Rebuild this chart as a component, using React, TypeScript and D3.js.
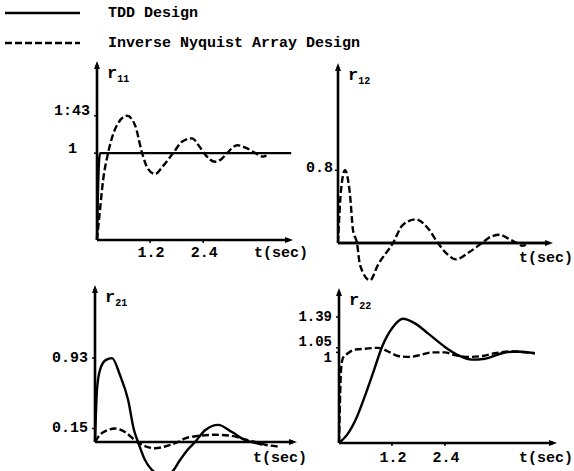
import React from "react";
import * as d3 from "d3";

// ---------- data ----------
const legendLabels = ["TDD Design", "Inverse Nyquist Array Design"];
const panelNames = ["11", "12", "21", "22"];

// r11
const r11TddT = [0, 0.02, 0.045, 0.07, 0.1, 4.39];
const r11TddV = [0, 0.5, 0.9, 1.0, 1.0, 1.0];
const r11InaT = [0, 0.068, 0.136, 0.25, 0.45, 0.68, 0.86, 1.02, 1.15, 1.31, 1.49, 1.72, 1.92, 2.15, 2.31, 2.45, 2.67, 2.81, 2.94, 3.17, 3.37, 3.58, 3.76, 3.83];
const r11InaV = [0, 0.35, 0.68, 1.0, 1.32, 1.43, 1.32, 1.0, 0.82, 0.76, 0.85, 1.0, 1.13, 1.17, 1.08, 0.98, 0.9, 0.93, 1.0, 1.09, 1.06, 1.0, 0.96, 0.97];

// r12
const r12TddT = [0, 4.7];
const r12TddV = [0, 0];
const r12InaT = [0, 0.068, 0.158, 0.272, 0.34, 0.43, 0.498, 0.724, 0.906, 1.245, 1.47, 1.766, 2.04, 2.264, 2.468, 2.675, 2.943, 3.26, 3.464, 3.668, 3.85, 4.05, 4.166, 4.256];
const r12InaV = [0, 0.58, 0.8, 0.53, 0.14, 0, -0.24, -0.41, -0.24, 0, 0.2, 0.26, 0.16, 0, -0.12, -0.18, -0.11, 0, 0.07, 0.09, 0.05, 0, -0.03, -0.02];

// r21
const r21TddT = [0, 0.045, 0.113, 0.249, 0.385, 0.566, 0.747, 0.883, 0.974, 1.132, 1.336, 1.54, 1.743, 1.924, 2.106, 2.264, 2.49, 2.785, 3.1, 3.396, 3.622, 3.78];
const r21TddV = [0, 0.58, 0.8, 0.91, 0.93, 0.74, 0.47, 0.13, 0, -0.2, -0.33, -0.37, -0.33, -0.2, -0.08, 0, 0.13, 0.19, 0.11, 0.02, -0.01, -0.03];
const r21InaT = [0, 0.113, 0.272, 0.453, 0.679, 0.951, 1.155, 1.358, 1.585, 1.879, 2.038, 2.377, 2.717, 3.056, 3.396, 3.622, 3.849, 4.143];
const r21InaV = [0, 0.08, 0.13, 0.15, 0.11, 0, -0.05, -0.07, -0.05, 0, 0.04, 0.07, 0.08, 0.07, 0.03, 0, -0.03, -0.05];

// r22
const r22TddT = [0, 0.181, 0.408, 0.589, 0.77, 0.974, 1.223, 1.449, 1.721, 2.015, 2.4, 2.694, 3.011, 3.306, 3.691, 4.031, 4.437];
const r22TddV = [0, 0.09, 0.29, 0.52, 0.77, 1.06, 1.28, 1.37, 1.32, 1.21, 1.06, 0.97, 0.92, 0.93, 0.99, 1.01, 0.99];
const r22InaT = [0, 0.023, 0.045, 0.091, 0.204, 0.362, 0.589, 0.883, 1.155, 1.336, 1.608, 1.834, 2.106, 2.4, 2.626, 2.966, 3.238, 3.532, 3.872, 4.437];
const r22InaV = [0, 0.47, 0.8, 0.94, 0.99, 1.03, 1.04, 1.05, 1.0, 0.96, 0.95, 0.97, 1.0, 1.0, 0.97, 0.95, 0.96, 0.99, 1.01, 0.99];

// tick labels
const r11YTicks = [1.43, 1];
const r11YLabels = ["1:43", "1"];
const r12YTicks = [0.8];
const r12YLabels = ["0.8"];
const r21YTicks = [0.93, 0.15];
const r21YLabels = ["0.93", "0.15"];
const r22YTicks = [1.39, 1.05, 1];
const r22YLabels = ["1.39", "1.05", "1"];
const xTicks = [1.2, 2.4];
const xTickLabels = ["1.2", "2.4"];
const xAxisLabel = "t(sec)";

// ---------- layout ----------
const W = 574;
const H = 471;
const FONT = "'Liberation Mono', 'DejaVu Sans Mono', monospace";
const FS = 15;

type Panel = {
  name: string;
  xr: [number, number];
  td: [number, number];
  yr: [number, number];
  vd: [number, number];
  tdd: [number[], number[]];
  ina: [number[], number[]];
  yTicks: number[];
  yLabels: string[];
  yLabelDy: number[];
  yLabelDx: number[];
  xTicks: number[];
  xLabelY: number;
  tsecX: number;
};

const panels: Panel[] = [
  { name: panelNames[0], xr: [97, 293], td: [0, 4.43], yr: [240, 61], vd: [0, 2.06], tdd: [r11TddT, r11TddV], ina: [r11InaT, r11InaV], yTicks: r11YTicks, yLabels: r11YLabels, yLabelDy: [-4, -4], yLabelDx: [0, -13], xTicks: xTicks, xLabelY: 253, tsecX: 254 },
  { name: panelNames[1], xr: [338, 553], td: [0, 4.87], yr: [243, 63], vd: [0, 1.98], tdd: [r12TddT, r12TddV], ina: [r12InaT, r12InaV], yTicks: r12YTicks, yLabels: r12YLabels, yLabelDy: [-2], yLabelDx: [2], xTicks: [], xLabelY: 258, tsecX: 519 },
  { name: panelNames[2], xr: [95, 297], td: [0, 4.57], yr: [442, 285], vd: [0, 1.74], tdd: [r21TddT, r21TddV], ina: [r21InaT, r21InaV], yTicks: r21YTicks, yLabels: r21YLabels, yLabelDy: [0, 0], yLabelDx: [0, 0], xTicks: [], xLabelY: 458, tsecX: 253 },
  { name: panelNames[3], xr: [339, 557], td: [0, 4.94], yr: [443, 288], vd: [0, 1.71], tdd: [r22TddT, r22TddV], ina: [r22InaT, r22InaV], yTicks: r22YTicks, yLabels: r22YLabels, yLabelDy: [0, -6, 6], yLabelDx: [0, 0, 0], xTicks: xTicks, xLabelY: 458, tsecX: 519 },
];

function PanelView({ p }: { p: Panel }) {
  const x = d3.scaleLinear().domain(p.td).range(p.xr);
  const y = d3.scaleLinear().domain(p.vd).range(p.yr);
  const line = d3
    .line<[number, number]>()
    .x((d) => x(d[0]))
    .y((d) => y(d[1]))
    .curve(d3.curveMonotoneX);
  const tdd = p.tdd[0].map((t, i) => [t, p.tdd[1][i]] as [number, number]);
  const ina = p.ina[0].map((t, i) => [t, p.ina[1][i]] as [number, number]);
  const x0 = x(0);
  const y0 = y(0);
  const xEnd = p.xr[1];
  const yTop = p.yr[1];
  return (
    <g>
      {/* axes */}
      <line x1={x0} y1={y0} x2={x0} y2={yTop + 4} stroke="#000" strokeWidth={2.6} />
      <path d={`M${x0 - 3},${yTop + 8} L${x0},${yTop} L${x0 + 3},${yTop + 8} Z`} fill="#000" />
      <line x1={x0} y1={y0} x2={xEnd - 4} y2={y0} stroke="#000" strokeWidth={2.6} />
      <path d={`M${xEnd - 8},${y0 - 3} L${xEnd},${y0} L${xEnd - 8},${y0 + 3} Z`} fill="#000" />
      {p.yTicks.map((v, i) => (
        <g key={"yt" + i}>
          <line x1={x0 - 3} x2={x0} y1={y(v)} y2={y(v)} stroke="#000" strokeWidth={1.5} />
          <text x={x0 - 7 + p.yLabelDx[i]} y={y(v) + p.yLabelDy[i]} textAnchor="end" dominantBaseline="central" fontFamily={FONT} fontWeight="bold" fontSize={p.yTicks.length > 2 ? 14 : FS} fill="#000">
            {p.yLabels[i]}
          </text>
        </g>
      ))}
      {p.xTicks.map((t, i) => (
        <g key={"xt" + i}>
          <line x1={x(t)} x2={x(t)} y1={y0} y2={y0 + 3} stroke="#000" strokeWidth={1.5} />
          <text x={x(t) + 1} y={p.xLabelY} textAnchor="middle" dominantBaseline="central" fontFamily={FONT} fontWeight="bold" fontSize={FS} fill="#000">
            {xTickLabels[i]}
          </text>
        </g>
      ))}
      <text x={p.tsecX} y={p.xLabelY} dominantBaseline="central" fontFamily={FONT} fontWeight="bold" fontSize={FS} fill="#000">
        {xAxisLabel}
      </text>
      <text x={x0 + 10} y={yTop + 17} fontFamily={FONT} fontWeight="bold" fontSize={17} fill="#000">
        r<tspan fontSize={10} dy={4}>{p.name}</tspan>
      </text>
      {/* curves */}
      <path d={line(tdd) || ""} fill="none" stroke="#000" strokeWidth={2.4} strokeLinejoin="round" />
      <path d={line(ina) || ""} fill="none" stroke="#000" strokeWidth={2.4} strokeDasharray="7,3" />
    </g>
  );
}

export default function App() {
  return (
    <svg width={W} height={H} style={{ position: "absolute", left: 0, top: 0, background: "#fff" }}>
      <rect width={W} height={H} fill="#fff" />
      {/* legend */}
      <line x1={5} x2={80} y1={13} y2={13} stroke="#000" strokeWidth={2.4} />
      <text x={108} y={13} dominantBaseline="central" fontFamily={FONT} fontWeight="bold" fontSize={FS} fill="#000">
        {legendLabels[0]}
      </text>
      <line x1={5} x2={80} y1={43} y2={43} stroke="#000" strokeWidth={2.4} strokeDasharray="7,3" />
      <text x={108} y={43} dominantBaseline="central" fontFamily={FONT} fontWeight="bold" fontSize={FS} fill="#000">
        {legendLabels[1]}
      </text>
      {panels.map((p, i) => (
        <PanelView key={i} p={p} />
      ))}
    </svg>
  );
}
